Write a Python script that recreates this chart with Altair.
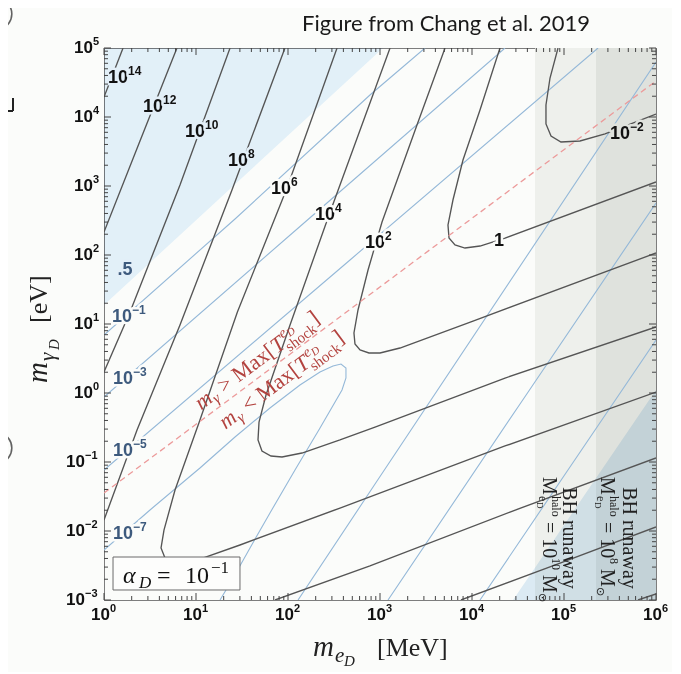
import altair as alt
import pandas as pd

# ===== data in log10 units: x = log10(m_eD / MeV), y = log10(m_gammaD / eV) =====
# black contours (labelled 1e14 ... 1e-2); "b" = branch entering from the bottom edge
c14_x = [0.207, 0.0]
c14_y = [5.0, 4.29]
c12_x = [0.793, 0.391, 0.0]
c12_y = [5.0, 3.652, 2.333]
c12b_x = [5.804, 6.0]
c12b_y = [-3.0, -2.913]
c10_x = [1.370, 0.826, 0.283, 0.0]
c10_y = [5.0, 3.014, 1.174, 0.304]
c10b_x = [3.880, 4.957, 6.0]
c10b_y = [-3.0, -2.464, -1.942]
c8_x = [1.967, 1.391, 0.826, 0.359, 0.0]
c8_y = [5.0, 2.942, 0.986, -0.536, -1.841]
c8b_x = [1.859, 2.891, 4.413, 6.0]
c8b_y = [-3.0, -2.507, -1.725, -0.942]
c6_x = [2.533, 1.989, 1.45, 1.043, 0.772, 0.652, 0.620, 0.663, 0.750, 0.880, 1.043, 1.478, 2.565, 4.359, 6.0]
c6_y = [5.0, 2.971, 1.174, -0.391, -1.406, -1.986, -2.246, -2.391, -2.464, -2.464, -2.406, -2.203, -1.667, -0.768, 0.014]
c4_x = [3.109, 2.446, 2.022, 1.761, 1.685, 1.674, 1.717, 1.815, 1.935, 2.152, 2.565, 2.946, 4.359, 6.0]
c4_y = [5.0, 2.580, 0.986, -0.029, -0.420, -0.681, -0.841, -0.913, -0.928, -0.870, -0.681, -0.493, 0.217, 0.957]
c2_x = [3.707, 3.402, 3.022, 2.870, 2.761, 2.717, 2.728, 2.783, 2.880, 3.0, 3.217, 4.011, 6.0]
c2_y = [5.0, 3.884, 2.478, 1.783, 1.203, 0.870, 0.710, 0.623, 0.580, 0.580, 0.652, 1.043, 2.029]
c0_x = [4.304, 4.087, 3.902, 3.793, 3.739, 3.750, 3.815, 3.924, 4.087, 4.359, 6.0]
c0_y = [5.0, 4.101, 3.377, 2.797, 2.435, 2.246, 2.145, 2.101, 2.130, 2.246, 3.058]
cm2_x = [4.935, 4.848, 4.804, 4.804, 4.859, 4.967, 5.174, 5.446, 6.0]
cm2_y = [5.0, 4.565, 4.174, 3.899, 3.725, 3.638, 3.652, 3.754, 4.043]

# blue contours (1e-1, 1e-3, 1e-5: two arms each; 1e-7: full hairpin)
b1a_x = [0.0, 1.424, 2.891, 3.489]
b1a_y = [0.841, 2.522, 4.319, 5.0]
b1b_x = [4.087, 5.043, 6.0]
b1b_y = [-3.0, -1.116, 0.768]
b3a_x = [0.0, 2.130, 4.359]
b3a_y = [-0.058, 2.413, 5.0]
b3b_x = [3.087, 4.522, 6.0]
b3b_y = [-3.0, -0.159, 2.754]
b5a_x = [0.0, 2.674, 5.370]
b5a_y = [-1.116, 1.928, 5.0]
b5b_x = [2.109, 2.946, 6.0]
b5b_y = [-3.0, -1.319, 4.797]
b7_x = [0.0, 0.5, 1.043, 1.424, 1.804, 2.130, 2.348, 2.489, 2.576, 2.630, 2.630, 2.587, 2.348, 2.076, 1.804, 1.587, 1.391, 1.261]
b7_y = [-2.275, -1.696, -1.087, -0.638, -0.217, 0.116, 0.304, 0.391, 0.420, 0.362, 0.217, 0.043, -0.507, -1.116, -1.739, -2.246, -2.710, -3.0]

# 0.5 contour: shaded regions
reg_tl_x = [0.0, 3.033]
reg_tl_y = [1.275, 5.0]
reg_br_x = [4.446, 6.0]
reg_br_y = [-3.0, 0.043]
# BH runaway bands (log10 m_eD)
band1 = [4.685, 5.348]
band2 = [5.348, 6.0]
# red dashed line m_gamma = Max[T_shock]
red_x = [0.0, 6.0]
red_y = [-1.449, 4.522]

# contour labels
blk_exp = ["14", "12", "10", "8", "6", "4", "2", "\u22122"]
blk_lx = [0.261, 0.641, 1.098, 1.565, 2.033, 2.511, 3.054, 5.717]
blk_ly = [4.565, 4.145, 3.783, 3.362, 2.957, 2.580, 2.174, 3.754]
one_lx, one_ly = 4.293, 2.203
blu_exp = ["\u22121", "\u22123", "\u22125", "\u22127"]
blu_lx = [0.304, 0.315, 0.315, 0.315]
blu_ly = [1.101, 0.203, -0.841, -2.043]
half_lx, half_ly = 0.228, 1.783

# tick labels
x_major = [1, 10, 100, 1e3, 1e4, 1e5, 1e6]
x_exp = ["0", "1", "2", "3", "4", "5", "6"]
y_major_pos = [1e5, 1e4, 1e3, 100, 10, 1]
y_exp_pos = ["5", "4", "3", "2", "1", "0"]
y_major_neg = [0.1, 0.01, 0.001]
y_exp_neg = ["\u22121", "\u22122", "\u22123"]
y_major = y_major_pos + y_major_neg
x_minor = [k * 10.0 ** n for n in range(0, 6) for k in range(2, 10)]
y_minor = [k * 10.0 ** n for n in range(-3, 5) for k in range(2, 10)]

# annotation anchors (log10 units)
alpha_box = ([0.098, 1.478], [-2.855, -2.377])
alpha_anchor = (0.2065, -2.754)
red_anchor = (1.109, -0.346)
bh1_anchor = (4.989, -2.101)
m1_anchor = (4.772, -1.217)
bh2_anchor = (5.641, -2.101)
m2_anchor = (5.402, -1.217)

# ===== chart =====
W = H = 552
BG = "#fbfcfa"
LBLUE = "#e3eff8"
SANS = "Liberation Sans"
SERIF = "Liberation Serif"
XS = alt.Scale(type="log", domain=[1, 1e6], nice=False)
YS = alt.Scale(type="log", domain=[1e-3, 1e5], nice=False)
ONE = pd.DataFrame({"a": [0]})


def X(f="x"):
    return alt.X(f + ":Q", scale=XS, axis=None)


def Y(f="y"):
    return alt.Y(f + ":Q", scale=YS, axis=None)


def pt(lx, ly):
    return pd.DataFrame({"x": [10.0 ** lx], "y": [10.0 ** ly]})


def curves_df(named):
    rows = []
    for cid, (lx, ly) in named.items():
        for i, (a, b) in enumerate(zip(lx, ly)):
            rows.append({"id": cid, "i": i, "x": 10.0 ** a, "y": 10.0 ** b})
    return pd.DataFrame(rows)


def T(text, df=None, px=None, py=None, field=None, color="#000", halo=None, hw=5, **style):
    kw = dict(style)
    if field is None:
        kw["text"] = text
    if df is None:
        base = alt.Chart(ONE)
        enc = {"x": alt.value(px), "y": alt.value(py)}
    else:
        base = alt.Chart(df)
        enc = {"x": X(), "y": Y()}
    if field is not None:
        enc["text"] = alt.Text(field + ":N")
    out = []
    if halo is not None:
        if halo.startswith("field:"):
            f = halo[6:]
            out.append(base.mark_text(strokeWidth=hw, strokeJoin="round", **kw).encode(
                fill=alt.Fill(f + ":N", scale=None), stroke=alt.Stroke(f + ":N", scale=None), **enc))
        else:
            out.append(base.mark_text(fill=halo, stroke=halo, strokeWidth=hw, strokeJoin="round", **kw).encode(**enc))
    out.append(base.mark_text(fill=color, **kw).encode(**enc))
    return out


layers = []

# gray bands
bands = pd.DataFrame({"x": [10 ** band1[0], 10 ** band2[0]], "x2": [10 ** band1[1], 10 ** band2[1]],
                      "c": ["#eef0ec", "#dfe2dd"]})
layers.append(alt.Chart(bands).mark_rect().encode(
    x=X(), x2="x2:Q", y=alt.value(0), y2=alt.value(H), color=alt.Color("c:N", scale=None)))

# blue 0.5 regions (multiply)
tl = pd.DataFrame({"x": [10 ** v for v in reg_tl_x], "y": [10 ** v for v in reg_tl_y], "y2": [1e5, 1e5]})
br = pd.DataFrame({"x": [10 ** v for v in reg_br_x], "y": [10 ** v for v in reg_br_y], "y2": [1e-3, 1e-3]})
layers.append(alt.Chart(tl).mark_area(color="#e6f3fd", blend="multiply").encode(x=X(), y=Y(), y2="y2:Q"))
layers.append(alt.Chart(br).mark_area(color="#dfedf8", blend="multiply").encode(x=X(), y=Y(), y2="y2:Q"))

# blue contour lines
blue_df = curves_df({"b1a": (b1a_x, b1a_y), "b1b": (b1b_x, b1b_y), "b3a": (b3a_x, b3a_y),
                     "b3b": (b3b_x, b3b_y), "b5a": (b5a_x, b5a_y), "b5b": (b5b_x, b5b_y),
                     "b7": (b7_x, b7_y)})
layers.append(alt.Chart(blue_df).mark_line(color="#94b8d8", strokeWidth=1.1, clip=True).encode(
    x=X(), y=Y(), detail="id:N", order=alt.Order("i:Q")))

# black contour lines
black_df = curves_df({"c14": (c14_x, c14_y), "c12": (c12_x, c12_y), "c12b": (c12b_x, c12b_y),
                      "c10": (c10_x, c10_y), "c10b": (c10b_x, c10b_y), "c8": (c8_x, c8_y),
                      "c8b": (c8b_x, c8b_y), "c6": (c6_x, c6_y), "c4": (c4_x, c4_y),
                      "c2": (c2_x, c2_y), "c0": (c0_x, c0_y), "cm2": (cm2_x, cm2_y)})
layers.append(alt.Chart(black_df).mark_line(color="#555555", strokeWidth=1.35, clip=True).encode(
    x=X(), y=Y(), detail="id:N", order=alt.Order("i:Q")))

# red dashed line
red_df = pd.DataFrame({"x": [10 ** v for v in red_x], "y": [10 ** v for v in red_y]})
layers.append(alt.Chart(red_df).mark_line(color="#ec9a9a", strokeWidth=1.3, strokeDash=[6, 4], clip=True).encode(
    x=X(), y=Y()))

# alpha_D box
box = pd.DataFrame({"x": [10 ** alpha_box[0][0]], "x2": [10 ** alpha_box[0][1]],
                    "y": [10 ** alpha_box[1][0]], "y2": [10 ** alpha_box[1][1]]})
layers.append(alt.Chart(box).mark_rect(fill="#fdfdfc", stroke="#6b6b6b", strokeWidth=1).encode(
    x=X(), x2="x2:Q", y=Y(), y2="y2:Q"))
ad = pt(*alpha_anchor)
for txt, st, sz, dx, dy in [("\u03b1", "italic", 24, 0, 0), ("D", "italic", 17, 16, 5),
                            ("=", "normal", 24, 34, 0), ("10", "normal", 24, 62, 0),
                            ("\u22121", "normal", 17, 88, -10)]:
    layers += T(txt, df=ad, color="#111", font=SERIF, fontStyle=st, fontSize=sz, dx=dx, dy=dy,
                align="left", baseline="alphabetic")

# black contour labels
bl = pd.DataFrame({"x": [10 ** v for v in blk_lx], "y": [10 ** v for v in blk_ly], "e": blk_exp,
                   "h": [LBLUE] * 4 + [BG] * 3 + ["#dfe2dd"]})
layers += T("10", df=bl, color="#111", halo="field:h", font=SANS, fontWeight="bold", fontSize=18,
            align="right", baseline="middle")
layers += T(None, df=bl, field="e", color="#111", halo="field:h", font=SANS, fontWeight="bold",
            fontSize=12, align="left", baseline="middle", dy=-7)
layers += T("1", df=pt(one_lx, one_ly), color="#111", halo=BG, font=SANS, fontWeight="bold",
            fontSize=18, align="center", baseline="middle")

# blue contour labels
BLUE_T = "#3d5a7d"
bu = pd.DataFrame({"x": [10 ** v for v in blu_lx], "y": [10 ** v for v in blu_ly], "e": blu_exp})
layers += T("10", df=bu, color=BLUE_T, halo=BG, font=SANS, fontWeight="bold", fontSize=18,
            align="right", baseline="middle")
layers += T(None, df=bu, field="e", color=BLUE_T, halo=BG, font=SANS, fontWeight="bold",
            fontSize=12, align="left", baseline="middle", dy=-7)
layers += T(".5", df=pt(half_lx, half_ly), color=BLUE_T, halo=LBLUE, font=SANS, fontWeight="bold",
            fontSize=18, align="center", baseline="middle")

# red rotated annotations
ra = pt(*red_anchor)
RED = "#b3433f"
ANG = 323.3
for off_dx, off_dy, rel in [(0, -8, ">"), (8, 22, "<")]:
    for txt, st, sz, dx, dy in [("m", "italic", 22, 0, 0), ("\u03b3", "italic", 15, 16.5, 4),
                                (rel + " Max[", "normal", 22, 28.5, 0), ("T", "italic", 22, 94.5, 0),
                                ("e", "italic", 15, 108, -9), ("D", "italic", 11, 115, -6),
                                ("shock", "normal", 15, 106, 6), ("]", "normal", 22, 142, 0)]:
        layers += T(txt, df=ra, color=RED, font=SERIF, fontStyle=st, fontSize=sz,
                    dx=dx + off_dx, dy=dy + off_dy, angle=ANG, align="left", baseline="alphabetic")

# BH runaway annotations (rotated 90)
for anchor in (bh1_anchor, bh2_anchor):
    layers += T("BH runaway", df=pt(*anchor), color="#222", font=SERIF, fontSize=20, angle=90,
                align="center", baseline="alphabetic")
for anchor, ex, mdx in ((m1_anchor, "10", 98), (m2_anchor, "8", 92)):
    d = pt(*anchor)
    for txt, sz, dx, dy in [("M", 20, 0, 0), ("halo", 12, 19, -9), ("e", 12, 19, 4), ("D", 9, 25, 6),
                            ("= 10", 20, 45, 0), (ex, 12, 81, -9), ("M", 20, mdx, 0),
                            ("\u2299", 11, mdx + 18, 4)]:
        layers += T(txt, df=d, color="#222", font=SERIF, fontSize=sz, dx=dx, dy=dy, angle=90,
                    align="left", baseline="alphabetic")

# ticks (inward on all four sides)
TICK = "#444"
for vals, L in ((x_major, 7), (x_minor, 4)):
    d = pd.DataFrame({"x": vals})
    layers.append(alt.Chart(d).mark_rule(color=TICK, strokeWidth=1).encode(
        x=X(), y=alt.value(H), y2=alt.value(H - L)))
    layers.append(alt.Chart(d).mark_rule(color=TICK, strokeWidth=1).encode(
        x=X(), y=alt.value(0), y2=alt.value(L)))
for vals, L in ((y_major, 7), (y_minor, 4)):
    d = pd.DataFrame({"y": vals})
    layers.append(alt.Chart(d).mark_rule(color=TICK, strokeWidth=1).encode(
        y=Y(), x=alt.value(0), x2=alt.value(L)))
    layers.append(alt.Chart(d).mark_rule(color=TICK, strokeWidth=1).encode(
        y=Y(), x=alt.value(W), x2=alt.value(W - L)))

# tick labels
xl = pd.DataFrame({"x": x_major, "e": x_exp})
layers.append(alt.Chart(xl).mark_text(text="10", font=SANS, fontWeight="bold", fontSize=17, align="right",
                                      baseline="middle", dx=6, color="#111").encode(x=X(), y=alt.value(H + 15)))
layers.append(alt.Chart(xl).mark_text(font=SANS, fontWeight="bold", fontSize=11, align="left",
                                      baseline="middle", dx=6, dy=-6, color="#111").encode(
    x=X(), y=alt.value(H + 15), text="e:N"))
for vals, exps, jx in ((y_major_pos, y_exp_pos, -11), (y_major_neg, y_exp_neg, -19)):
    d = pd.DataFrame({"y": vals, "e": exps})
    layers.append(alt.Chart(d).mark_text(text="10", font=SANS, fontWeight="bold", fontSize=17, align="right",
                                         baseline="middle", color="#111").encode(y=Y(), x=alt.value(jx)))
    layers.append(alt.Chart(d).mark_text(font=SANS, fontWeight="bold", fontSize=11, align="left",
                                         baseline="middle", dy=-6, color="#111").encode(
        y=Y(), x=alt.value(jx), text="e:N"))

# axis titles
for txt, st, sz, dx, dy in [("m", "italic", 29, 0, 0), ("\u03b3", "italic", 21, 22, 7),
                            ("D", "italic", 15, 33, 12), ("[eV]", "normal", 26, 60, 0)]:
    layers += T(txt, px=-57, py=335, color="#222", font=SERIF, fontStyle=st, fontSize=sz, dx=dx, dy=dy,
                angle=270, align="left", baseline="alphabetic")
for txt, st, sz, dx, dy in [("m", "italic", 29, 0, 0), ("e", "italic", 21, 22, 6),
                            ("D", "italic", 15, 31, 10), ("[MeV]", "normal", 26, 64, 0)]:
    layers += T(txt, px=209, py=608, color="#222", font=SERIF, fontStyle=st, fontSize=sz, dx=dx, dy=dy,
                align="left", baseline="alphabetic")

# figure credit
layers += T("Figure from Chang et al. 2019", px=342, py=-17, color="#1a1a1a", font="Lato", fontSize=22,
            align="center", baseline="alphabetic")

# cropped slide elements at the far left
for cy in (-34, 400):
    layers.append(alt.Chart(ONE).mark_point(shape="circle", size=1000, filled=False, color="#222",
                                            strokeWidth=1.6).encode(x=alt.value(-108), y=alt.value(cy)))
layers.append(alt.Chart(ONE).mark_rule(color="#222", strokeWidth=2).encode(
    x=alt.value(-91), y=alt.value(50), y2=alt.value(63)))
layers.append(alt.Chart(ONE).mark_rule(color="#222", strokeWidth=2).encode(
    x=alt.value(-99), x2=alt.value(-91), y=alt.value(63)))

chart = alt.layer(*layers).properties(
    width=W, height=H,
    autosize=alt.AutoSizeParams(type="none"),
    padding={"left": 96, "top": 40, "right": 16, "bottom": 72},
    background=BG,
).configure_view(stroke="#7d7d7d", strokeWidth=1)

chart.save("out.html", embed_options={"renderer": "svg", "actions": False})
